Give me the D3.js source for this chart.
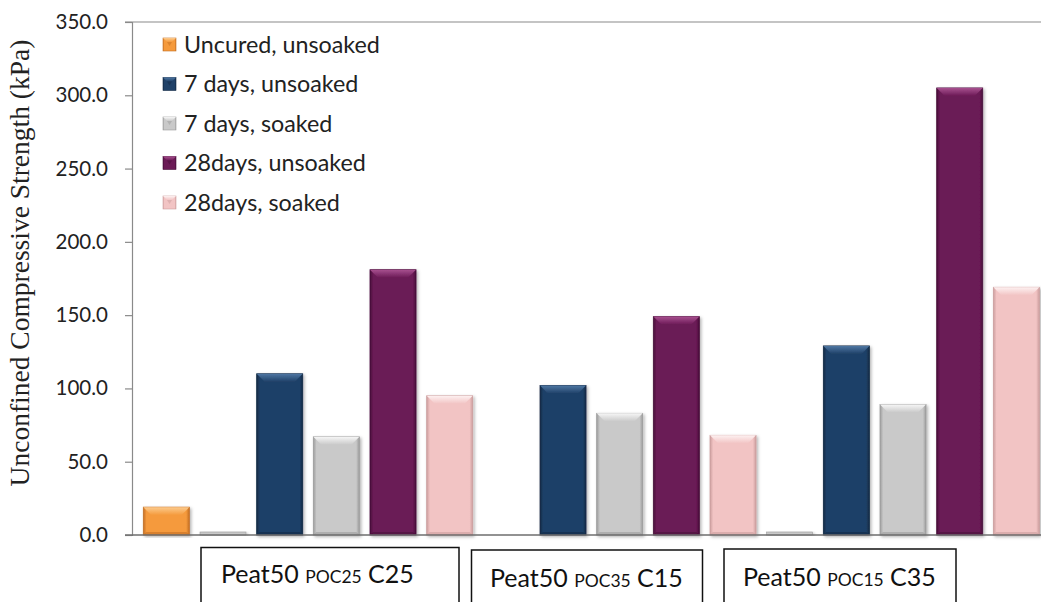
<!DOCTYPE html>
<html>
<head>
<meta charset="utf-8">
<script src="https://cdn.jsdelivr.net/npm/d3@7"></script>
<style>
  html, body { margin: 0; padding: 0; background: #fff; }
  svg { display: block; }
</style>
</head>
<body>
<svg id="chart" width="1041" height="602"></svg>
<script>
// ---- data ----
const seriesNames = ["Uncured, unsoaked", "7 days, unsoaked", "7 days, soaked", "28days, unsoaked", "28days, soaked"];
// bar slots along the axis: which series each slot shows (null = empty slot) and its value in kPa
const slotSeries = [0, 2, 1, 2, 3, 4, null, 1, 2, 3, 4, 2, 1, 2, 3, 4];
const slotValues = [19, 0, 110, 67, 181, 95, null, 102, 83, 149, 68, 0, 129, 89, 305, 169];
const yTicks = [0, 50, 100, 150, 200, 250, 300, 350];
const groupMain = ["Peat50", "Peat50", "Peat50"];
const groupPOC = ["POC25", "POC35", "POC15"];
const groupC = ["C25", "C15", "C35"];

// ---- styling ----
const palette = [
  { base: "#F59A3C", light: "#FCCB8E", dark: "#C46F24" },
  { base: "#1F4168", light: "#4F77A3", dark: "#132A45" },
  { base: "#C9C9C9", light: "#F6F6F6", dark: "#9C9C9C" },
  { base: "#6B1A56", light: "#A8508F", dark: "#470E39" },
  { base: "#F2C4C4", light: "#FDF1F1", dark: "#CC9E9E" }
];
const font = "Lato, 'Open Sans', sans-serif";

const svg = d3.select("#chart");
const plot = { left: 132, top: 22, bottom: 535 };

const y = d3.scaleLinear().domain([0, 350]).range([plot.bottom, plot.top]);
const x = d3.scaleBand()
  .domain(d3.range(slotValues.length))
  .range([plot.left, 1050.7])
  .paddingInner(0.188)
  .paddingOuter(0.2);

// gradients for the bevelled bars
const defs = svg.append("defs");
palette.forEach((p, i) => {
  const g = defs.append("linearGradient").attr("id", "side" + i).attr("x1", 0).attr("x2", 1).attr("y1", 0).attr("y2", 0);
  g.append("stop").attr("offset", "0%").attr("stop-color", p.dark);
  g.append("stop").attr("offset", "7%").attr("stop-color", p.base);
  g.append("stop").attr("offset", "93%").attr("stop-color", p.base);
  g.append("stop").attr("offset", "100%").attr("stop-color", p.dark);
  const t = defs.append("linearGradient").attr("id", "top" + i).attr("x1", 0).attr("x2", 0).attr("y1", 0).attr("y2", 1);
  t.append("stop").attr("offset", "0%").attr("stop-color", p.light);
  t.append("stop").attr("offset", "100%").attr("stop-color", p.base);
});
const shadow = defs.append("filter").attr("id", "shadow").attr("x", "-20%").attr("y", "-5%").attr("width", "140%").attr("height", "115%");
shadow.append("feDropShadow").attr("dx", 1.5).attr("dy", 1.5).attr("stdDeviation", 1.6)
  .attr("flood-color", "#000").attr("flood-opacity", 0.3);

// ---- plot frame ----
svg.append("line").attr("x1", plot.left - 7).attr("x2", 1041).attr("y1", plot.top).attr("y2", plot.top)
  .attr("stroke", "#8a8a8a").attr("stroke-width", 1.2);

// y axis
const yAxis = svg.append("g").attr("transform", `translate(${plot.left},0)`)
  .call(d3.axisLeft(y).tickValues(yTicks).tickFormat(d3.format(".1f")).tickSize(7).tickPadding(17));
yAxis.select(".domain").attr("stroke", "#8a8a8a").attr("stroke-width", 1.2);
yAxis.selectAll(".tick line").attr("stroke", "#8a8a8a").attr("stroke-width", 1.2);
yAxis.selectAll(".tick text").attr("font-family", font).attr("font-size", 20.5).attr("fill", "#222");

svg.append("text")
  .attr("transform", `translate(29,263) rotate(-90)`)
  .attr("text-anchor", "middle")
  .attr("font-family", "'Liberation Serif', 'Times New Roman', serif")
  .attr("font-size", 27.5).attr("fill", "#222")
  .text("Unconfined Compressive Strength (kPa)");

// ---- bars ----
function bevelBar(g, s, x0, w, v) {
  const yTop = y(v), h = plot.bottom - yTop;
  const bar = g.append("g").attr("filter", "url(#shadow)");
  if (h < 1) {
    // zero-value bar: a flat cap on the baseline
    bar.append("rect").attr("x", x0).attr("y", plot.bottom - 3).attr("width", w).attr("height", 3)
      .attr("fill", palette[s].base).attr("stroke", palette[s].dark).attr("stroke-width", 0.6);
    return;
  }
  bar.append("rect").attr("x", x0).attr("y", yTop).attr("width", w).attr("height", h)
    .attr("fill", `url(#side${s})`).attr("stroke", palette[s].dark).attr("stroke-width", 0.8);
  const b = Math.min(8, h / 2);
  bar.append("path")
    .attr("d", `M${x0},${yTop}L${x0 + w},${yTop}L${x0 + w - b},${yTop + b}L${x0 + b},${yTop + b}Z`)
    .attr("fill", `url(#top${s})`);
  bar.append("path")
    .attr("d", `M${x0},${plot.bottom}L${x0 + w},${plot.bottom}L${x0 + w - 3},${plot.bottom - 3}L${x0 + 3},${plot.bottom - 3}Z`)
    .attr("fill", palette[s].dark).attr("opacity", 0.6);
}

const barsG = svg.append("g");
slotValues.forEach((v, i) => {
  if (v === null) return;
  bevelBar(barsG, slotSeries[i], x(i), x.bandwidth(), v);
});

// x axis baseline
svg.append("line").attr("x1", plot.left - 7).attr("x2", 1041).attr("y1", plot.bottom).attr("y2", plot.bottom)
  .attr("stroke", "#6e6e6e").attr("stroke-width", 1.3);

// ---- legend ----
const legend = svg.append("g").attr("transform", "translate(163,38)");
seriesNames.forEach((name, i) => {
  const row = legend.append("g").attr("transform", `translate(0,${i * 39.5})`);
  const p = palette[i];
  row.append("rect").attr("width", 13).attr("height", 13).attr("fill", `url(#side${i})`)
    .attr("stroke", p.dark).attr("stroke-width", 0.6);
  row.append("path").attr("d", "M0,0L13,0L9,4L4,4Z").attr("fill", `url(#top${i})`);
  row.append("path").attr("d", "M4,4L9,4L6.5,8Z").attr("fill", p.dark).attr("opacity", 0.5);
  row.append("text").attr("x", 21).attr("y", 14.5)
    .attr("font-family", font).attr("font-size", 23.3).attr("fill", "#222").text(name);
});

// ---- group label boxes ----
const boxes = [
  { x: 201, w: 258, y: 547.5, tx: 221, ty: 583 },
  { x: 471.5, w: 231, y: 550, tx: 490, ty: 587 },
  { x: 724, w: 232, y: 549, tx: 743, ty: 586 }
];
groupMain.forEach((m, i) => {
  const b = boxes[i];
  svg.append("rect").attr("x", b.x).attr("y", b.y).attr("width", b.w).attr("height", 80)
    .attr("fill", "#fff").attr("stroke", "#111").attr("stroke-width", 1.5);
  const t = svg.append("text").attr("x", b.tx).attr("y", b.ty)
    .attr("font-family", font).attr("fill", "#111");
  t.append("tspan").attr("font-size", 25).text(m + " ");
  t.append("tspan").attr("font-size", 17.5).text(groupPOC[i]);
  t.append("tspan").attr("font-size", 25).text(" " + groupC[i]);
});
</script>
</body>
</html>
